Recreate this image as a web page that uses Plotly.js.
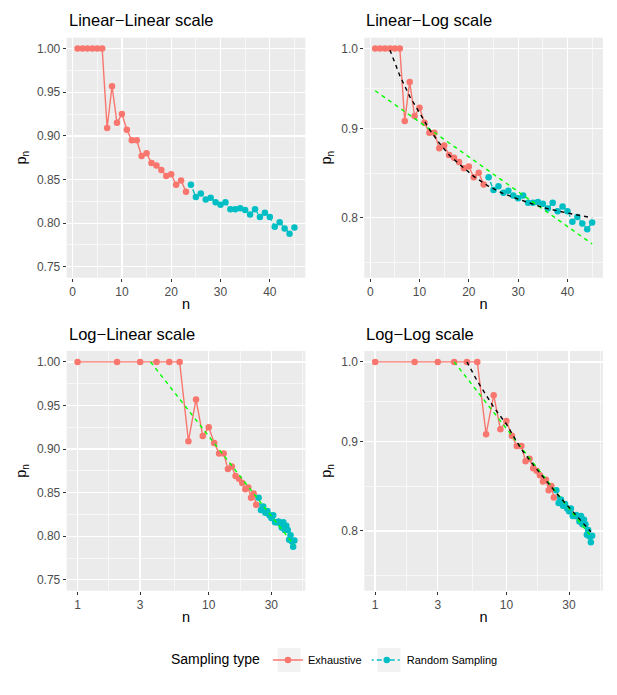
<!DOCTYPE html>
<html>
<head>
<meta charset="utf-8">
<script src="https://cdn.plot.ly/plotly-3.0.1.min.js"></script>
<style>
  html, body { margin: 0; padding: 0; background: #fff; }
</style>
</head>
<body>
<div id="myDiv" style="width:617px;height:695px;"></div>
<script>
var nExh = [1, 2, 3, 4, 5, 6, 7, 8, 9, 10, 11, 12, 13, 14, 15, 16, 17, 18, 19, 20, 21, 22, 23];
var pExh = [1, 1, 1, 1, 1, 1, 0.909, 0.957, 0.915, 0.925, 0.907, 0.895, 0.895, 0.877, 0.880,
            0.869, 0.866, 0.861, 0.854, 0.856, 0.844, 0.849, 0.836];

var nRand = [24, 25, 26, 27, 28, 29, 30, 31, 32, 33, 34, 35, 36, 37, 38, 39, 40, 41, 42, 43, 44, 45];
var pRand = [0.844, 0.830, 0.834, 0.827, 0.829, 0.824, 0.821, 0.824, 0.816, 0.816, 0.817,
             0.815, 0.810, 0.816, 0.807, 0.812, 0.807, 0.796, 0.801, 0.794, 0.788, 0.795];

// fitted curves, also
var nFitLinLog = [4, 6, 8, 10, 12, 14, 16, 18, 21, 24, 27, 30, 35, 40, 45];
var pFitLinLog = [0.998, 0.965, 0.939, 0.918, 0.899, 0.883, 0.869, 0.859, 0.845, 0.834,
                  0.826, 0.820, 0.811, 0.805, 0.800];
var nExpFit = [1, 45];
var pExpFit = [0.946, 0.773];
var nLogLinFit = [3.6, 44.6];
var pLogLinFit = [1.0, 0.790];
var nPowFit = [5, 6, 8, 10, 13, 17, 24, 32, 44];
var pPowFit = [1.0, 0.975, 0.942, 0.921, 0.891, 0.868, 0.841, 0.821, 0.799];
var nPowFitG = [4, 43];
var pPowFitG = [1.0, 0.796];

var linTicks = [0.75, 0.80, 0.85, 0.90, 0.95, 1.00];
var linTickText = ['0.75', '0.80', '0.85', '0.90', '0.95', '1.00'];
var logTicks = [0.8, 0.9, 1.0];
var logTickText = ['0.8', '0.9', '1.0'];
var nLinTicks = [0, 10, 20, 30, 40];
var nLogTicks = [1, 3, 10, 30];

var red = '#F8766D';
var teal = '#00BFC4';
var W = 617, H = 695;

function px(v) { return v / W; }
function py(v) { return 1 - v / H; }

var font = 'Liberation Sans';

var data = [];
var panels = ['', '2', '3', '4'];

panels.forEach(function (k, i) {
  data.push({
    type: 'scatter', x: nExh, y: pExh, mode: 'lines+markers',
    name: 'Exhaustive', legendgroup: 'e', showlegend: i === 0,
    xaxis: 'x' + k, yaxis: 'y' + k,
    line: {color: red, width: 1.4},
    marker: {color: red, size: 6.5}
  });
  data.push({
    type: 'scatter', x: nRand, y: pRand, mode: 'lines+markers',
    name: 'Random Sampling', legendgroup: 'r', showlegend: i === 0,
    xaxis: 'x' + k, yaxis: 'y' + k,
    line: {color: teal, width: 1.4, dash: '2px,3px,5px,3px'},
    marker: {color: teal, size: 6.5}
  });
});

function fit(x, y, k, color) {
  return {
    type: 'scatter', x: x, y: y, mode: 'lines', showlegend: false,
    xaxis: 'x' + k, yaxis: 'y' + k, hoverinfo: 'skip',
    line: {color: color, width: 1.4, dash: '4px,4px'}
  };
}

data.push(fit(nExpFit, pExpFit, '2', '#00FF00'));
data.push(fit(nFitLinLog, pFitLinLog, '2', '#000000'));
data.push(fit(nLogLinFit, pLogLinFit, '3', '#00FF00'));
data.push(fit(nPowFitG, pPowFitG, '4', '#00FF00'));
data.push(fit(nPowFit, pPowFit, '4', '#000000'));

var leftDom = [px(66.7), px(305.3)];
var rightDom = [px(364.3), px(603)];
var topDom = [py(277.7), py(37.7)];
var botDom = [py(590.7), py(351)];

var axisTitleFont = {family: font, size: 14.5, color: '#000', weight: 400};

function common() {
  return {
    showgrid: true, gridcolor: '#FFFFFF', gridwidth: 1.3,
    zeroline: false, showline: false,
    ticks: 'outside', ticklen: 3, tickwidth: 1, tickcolor: '#333333',
    tickfont: {family: font, size: 12, color: '#4D4D4D'},
    tickmode: 'array'
  };
}

function xLin(dom, anchor) {
  var a = common();
  a.domain = dom; a.anchor = anchor;
  a.range = [-1.2, 47.2];
  a.tickvals = nLinTicks;
  a.minor = {tickmode: 'array', tickvals: [5, 15, 25, 35, 45], showgrid: true,
             gridcolor: '#FFFFFF', gridwidth: 0.6, ticks: ''};
  a.title = {text: 'n', font: axisTitleFont, standoff: 0};
  return a;
}
function xLog(dom, anchor) {
  var a = common();
  a.domain = dom; a.anchor = anchor; a.type = 'log';
  a.range = [-0.08266, 1.7359];
  a.tickvals = nLogTicks;
  a.ticktext = ['1', '3', '10', '30'];
  a.minor = {tickmode: 'array', tickvals: [1.732, 5.477, 17.32, 52.0], showgrid: true,
             gridcolor: '#FFFFFF', gridwidth: 0.6, ticks: ''};
  a.title = {text: 'n', font: axisTitleFont, standoff: 0};
  return a;
}
function yLin(dom, anchor) {
  var a = common();
  a.domain = dom; a.anchor = anchor;
  a.range = [0.7375, 1.0125];
  a.tickvals = linTicks; a.ticktext = linTickText;
  a.minor = {tickmode: 'array', tickvals: [0.775, 0.825, 0.875, 0.925, 0.975], showgrid: true,
             gridcolor: '#FFFFFF', gridwidth: 0.6, ticks: ''};
  a.title = {text: 'p<sub>n</sub>', font: axisTitleFont, standoff: 6};
  return a;
}
function yLog(dom, anchor) {
  var a = common();
  a.domain = dom; a.anchor = anchor; a.type = 'log';
  a.range = [-0.13119, 0.006247];
  a.tickvals = logTicks; a.ticktext = logTickText;
  a.minor = {tickmode: 'array', tickvals: [0.7544, 0.8485, 0.9487], showgrid: true,
             gridcolor: '#FFFFFF', gridwidth: 0.6, ticks: ''};
  a.title = {text: 'p<sub>n</sub>', font: axisTitleFont, standoff: 6};
  return a;
}

function title(text, x, y) {
  return {
    text: text, xref: 'paper', yref: 'paper', x: x, y: y,
    xanchor: 'left', yanchor: 'middle', showarrow: false,
    font: {family: font, size: 16.5, color: '#000', weight: 400}
  };
}

var layout = {
  width: W, height: H,
  margin: {l: 0, r: 0, t: 0, b: 0},
  paper_bgcolor: '#FFFFFF',
  plot_bgcolor: '#EBEBEB',
  font: {family: font},
  xaxis: xLin(leftDom, 'y'),
  yaxis: yLin(topDom, 'x'),
  xaxis2: xLin(rightDom, 'y2'),
  yaxis2: yLog(topDom, 'x2'),
  xaxis3: xLog(leftDom, 'y3'),
  yaxis3: yLin(botDom, 'x3'),
  xaxis4: xLog(rightDom, 'y4'),
  yaxis4: yLog(botDom, 'x4'),
  annotations: [
    title('Linear\u2212Linear scale', px(66.7), py(20.5)),
    title('Linear\u2212Log scale', px(364.3), py(20.5)),
    title('Log\u2212Linear scale', px(66.7), py(333.5)),
    title('Log\u2212Log scale', px(364.3), py(333.5))
  ],
  showlegend: true,
  legend: {
    orientation: 'h', x: px(336), xanchor: 'center', y: py(660), yanchor: 'middle',
    bgcolor: 'rgba(0,0,0,0)',
    title: {text: 'Sampling type', side: 'left', font: {family: font, size: 14, color: '#000'}},
    font: {family: font, size: 11, color: '#000'},
    itemwidth: 30
  },
  shapes: [
    {type: 'rect', xref: 'paper', yref: 'paper', layer: 'above',
     x0: px(277.5), x1: px(300.5), y0: py(672), y1: py(648),
     fillcolor: '#F2F2F2', line: {width: 0}},
    {type: 'rect', xref: 'paper', yref: 'paper', layer: 'above',
     x0: px(377.5), x1: px(400.5), y0: py(672), y1: py(648),
     fillcolor: '#F2F2F2', line: {width: 0}}
  ]
};

Plotly.newPlot('myDiv', data, layout, {staticPlot: true});
</script>
</body>
</html>
